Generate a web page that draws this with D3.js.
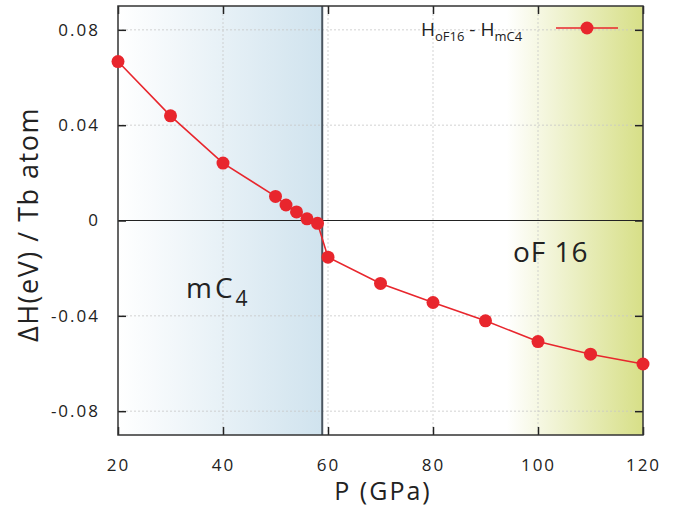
<!DOCTYPE html>
<html>
<head>
<meta charset="utf-8">
<script src="https://cdn.jsdelivr.net/npm/d3@7"></script>
<style>
  body { margin: 0; background: #fff; }
  svg { display: block; font-family: "Open Sans", "DejaVu Sans", sans-serif; }
</style>
</head>
<body>
<svg id="chart" width="684" height="506"></svg>
<script>
// data
var pressure = [20, 30, 40, 50, 52, 54, 56, 58, 60, 70, 80, 90, 100, 110, 120];
var dH = [0.0667, 0.0439, 0.0241, 0.0101, 0.0065, 0.0036, 0.0007, -0.0012, -0.0154,
          -0.0264, -0.0344, -0.0421, -0.0508, -0.0561, -0.0602];
var xTicks = [20, 40, 60, 80, 100, 120];
var yTicks = [-0.08, -0.04, 0, 0.04, 0.08];
var yTickLabels = ['-0.08', '-0.04', '0', '0.04', '0.08'];
var transitionP = 58.9;
var oFStart = 94;

var pL = 118, pR = 643, pT = 6, pB = 435;
var svg = d3.select('#chart');

var x = d3.scaleLinear().domain([20, 120]).range([pL, pR]);
var y = d3.scaleLinear().domain([-0.09, 0.09]).range([pB, pT]);

// gradients
var defs = svg.append('defs');
var gb = defs.append('linearGradient').attr('id', 'blueGrad');
gb.append('stop').attr('offset', '0%').attr('stop-color', '#ffffff');
gb.append('stop').attr('offset', '100%').attr('stop-color', '#d0e3ee');
var gy = defs.append('linearGradient').attr('id', 'yellowGrad');
gy.append('stop').attr('offset', '0%').attr('stop-color', '#ffffff');
gy.append('stop').attr('offset', '100%').attr('stop-color', '#d7df87');

svg.append('rect')
    .attr('x', x(20)).attr('y', pT)
    .attr('width', x(transitionP) - x(20)).attr('height', pB - pT)
    .attr('fill', 'url(#blueGrad)');
svg.append('rect')
    .attr('x', x(oFStart)).attr('y', pT)
    .attr('width', x(120) - x(oFStart)).attr('height', pB - pT)
    .attr('fill', 'url(#yellowGrad)');

// grid
svg.selectAll('.gx').data(xTicks.slice(1, -1)).enter().append('line')
    .attr('x1', function (d) { return x(d); }).attr('x2', function (d) { return x(d); })
    .attr('y1', pT).attr('y2', pB)
    .attr('stroke', '#c8c8c8').attr('stroke-width', 0.8).attr('stroke-dasharray', '2,2');
svg.selectAll('.gy').data(yTicks).enter().append('line')
    .attr('x1', pL).attr('x2', pR)
    .attr('y1', function (d) { return y(d); }).attr('y2', function (d) { return y(d); })
    .attr('stroke', '#c8c8c8').attr('stroke-width', 0.8).attr('stroke-dasharray', '2,2');

// zero line and transition line
svg.append('line')
    .attr('x1', pL).attr('x2', pR).attr('y1', y(0)).attr('y2', y(0))
    .attr('stroke', '#222').attr('stroke-width', 1.2);
svg.append('line')
    .attr('x1', x(transitionP)).attr('x2', x(transitionP)).attr('y1', pT).attr('y2', pB)
    .attr('stroke', '#4a5560').attr('stroke-width', 2);

// axes: inward ticks on all sides
var tickLen = 8;
svg.append('g').attr('transform', 'translate(0,' + pB + ')')
    .call(d3.axisBottom(x).tickValues(xTicks).tickSize(-tickLen).tickPadding(24))
    .call(styleAxis);
svg.append('g').attr('transform', 'translate(0,' + pT + ')')
    .call(d3.axisTop(x).tickValues(xTicks).tickSize(-tickLen).tickFormat(''))
    .call(styleAxis);
svg.append('g').attr('transform', 'translate(' + pL + ',0)')
    .call(d3.axisLeft(y).tickValues(yTicks).tickSize(-tickLen).tickPadding(18)
        .tickFormat(function (d, i) { return yTickLabels[i]; }))
    .call(styleAxis);
svg.append('g').attr('transform', 'translate(' + pR + ',0)')
    .call(d3.axisRight(y).tickValues(yTicks).tickSize(-tickLen).tickFormat(''))
    .call(styleAxis);

function styleAxis(g) {
    g.select('.domain').remove();
    g.selectAll('.tick line').attr('stroke', '#222').attr('stroke-width', 1.5);
    g.selectAll('.tick text')
        .attr('font-size', 17).attr('fill', '#222')
        .attr('font-family', '"Open Sans", sans-serif')
        .style('letter-spacing', '2px');
}

svg.append('rect')
    .attr('x', pL).attr('y', pT).attr('width', pR - pL).attr('height', pB - pT)
    .attr('fill', 'none').attr('stroke', '#333').attr('stroke-width', 1.5);

// series
var line = d3.line()
    .x(function (d, i) { return x(pressure[i]); })
    .y(function (d) { return y(d); });
svg.append('path').datum(dH)
    .attr('d', line).attr('fill', 'none')
    .attr('stroke', '#e8262d').attr('stroke-width', 1.6);
svg.selectAll('.pt').data(dH).enter().append('circle')
    .attr('cx', function (d, i) { return x(pressure[i]); })
    .attr('cy', function (d) { return y(d); })
    .attr('r', 6.5).attr('fill', '#e8262d');

// legend
var leg = svg.append('text').attr('x', 421).attr('y', 36)
    .attr('font-size', 19).attr('fill', '#222');
leg.append('tspan').text('H');
leg.append('tspan').attr('font-size', 13).attr('dy', 5).text('oF16');
leg.append('tspan').attr('dy', -5).text(' - H');
leg.append('tspan').attr('font-size', 13).attr('dy', 5).text('mC4');
svg.append('line').attr('x1', 556).attr('x2', 618).attr('y1', 28).attr('y2', 28)
    .attr('stroke', '#e8262d').attr('stroke-width', 1.6);
svg.append('circle').attr('cx', 587).attr('cy', 28).attr('r', 6.5).attr('fill', '#e8262d');

// region labels
var mc = svg.append('text').attr('x', 186).attr('y', 298)
    .attr('font-size', 28).attr('fill', '#222').style('letter-spacing', '3px');
mc.append('tspan').text('mC');
mc.append('tspan').attr('font-size', 21).attr('dy', 8).text('4');
svg.append('text').attr('x', 513).attr('y', 262)
    .attr('font-size', 28).attr('fill', '#222').style('letter-spacing', '1px')
    .text('oF 16');

// axis titles
svg.append('text')
    .attr('transform', 'translate(38,' + ((pT + pB) / 2 + 4) + ') rotate(-90)')
    .attr('text-anchor', 'middle').attr('font-size', 27).attr('fill', '#222')
    .style('letter-spacing', '1.5px')
    .text('ΔH(eV) / Tb atom');
svg.append('text')
    .attr('x', 383).attr('y', 500)
    .attr('text-anchor', 'middle').attr('font-size', 25).attr('fill', '#222')
    .style('letter-spacing', '2px')
    .text('P (GPa)');
</script>
</body>
</html>
